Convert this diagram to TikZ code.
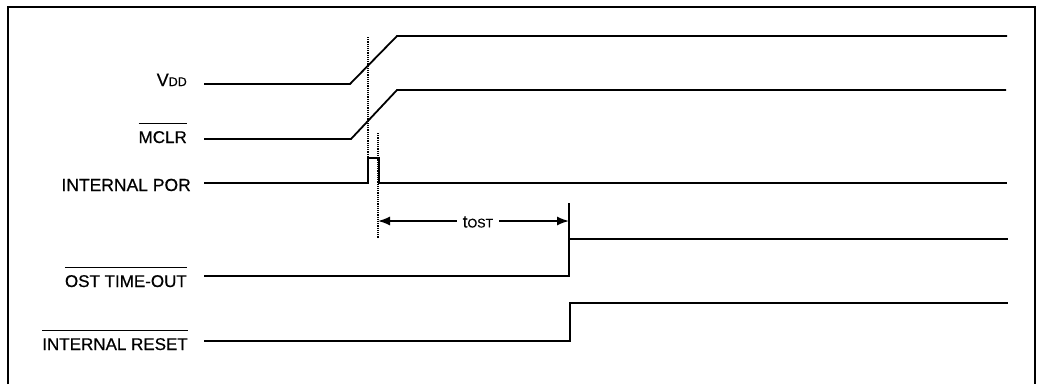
\documentclass[tikz,border=0pt]{standalone}
\usepackage{fontspec}
\setmainfont{Liberation Sans}
\newfontfamily\sigfont{Liberation Sans}[FakeBold=0.6]
\usetikzlibrary{positioning, arrows.meta}

% overlined (active low) signal name, and the small caps of subscripts
\newcommand{\barred}[1]{\vbox{\hrule height 1.4pt \kern 7pt \hbox{#1}}}
\newcommand{\smallcaps}[1]{{\fontsize{12.5}{14}\selectfont #1}}

\begin{document}
\begin{tikzpicture}[
    x=1pt, y=-1pt,
    wave/.style={black, line width=1.8pt, line join=miter},
    marker line/.style={black, line width=1.4pt, dash pattern=on 1.2pt off 1pt},
    sig label/.style={anchor=base east, inner sep=0pt, font=\sigfont\fontsize{17}{20}\selectfont},
    span arrow/.style={line width=1.5pt, -{Latex[length=12pt, width=9pt]}}
]

\useasboundingbox (0,0) rectangle (1039,384);

% --- 1. Frame (open at the bottom) ---
\draw[line width=1.6pt] (8,384) -- (8,7) -- (1035,7) -- (1035,384);

% --- 2. Signal names ---
\foreach \nm/\xx/\yy/\txt in {
    vdd/187/86/{{\fontsize{18}{20}\selectfont V}\smallcaps{DD}},
    mclr/187/143/{\barred{MCLR}},
    por/191/191/{\fontsize{17.5}{20}\selectfont INTERNAL POR},
    ost/187/287/{\barred{OST TIME-OUT}},
    rst/188/350/{\barred{INTERNAL RESET}}
}{
    \node[sig label] (\nm) at (\xx,\yy) {\txt};
}

% --- 3. Waveforms ---
\draw[wave] (204,84) -- (350,84) -- (397,36) -- (1007,36);
\draw[wave] (204,139) -- (351,139) -- (397,90) -- (1006,90);
\draw[wave] (204,183) -- (368,183) -- (368,158) -- (379,158) -- (379,183) -- (1007,183);
\draw[wave] (204,276) -- (569,276) -- (569,203);
\draw[wave] (569,239) -- (1008,239);
\draw[wave] (204,341) -- (570,341) -- (570,303) -- (1008,303);

% --- 4. Timing markers ---
\draw[marker line] (368,37) -- (368,158);
\draw[marker line] (378,133) -- (378,238);

% --- 5. Oscillator start-up time ---
\coordinate (tL) at (378,221);
\coordinate (tR) at (569,221);
\node[inner xsep=6pt, inner ysep=0pt, font=\sigfont\fontsize{17}{20}\selectfont] (tost) at (478,222) {t\smallcaps{OST}};
\draw[span arrow] (tost.west |- tL) -- (tL);
\draw[span arrow] (tost.east |- tR) -- (tR);

\end{tikzpicture}
\end{document}
